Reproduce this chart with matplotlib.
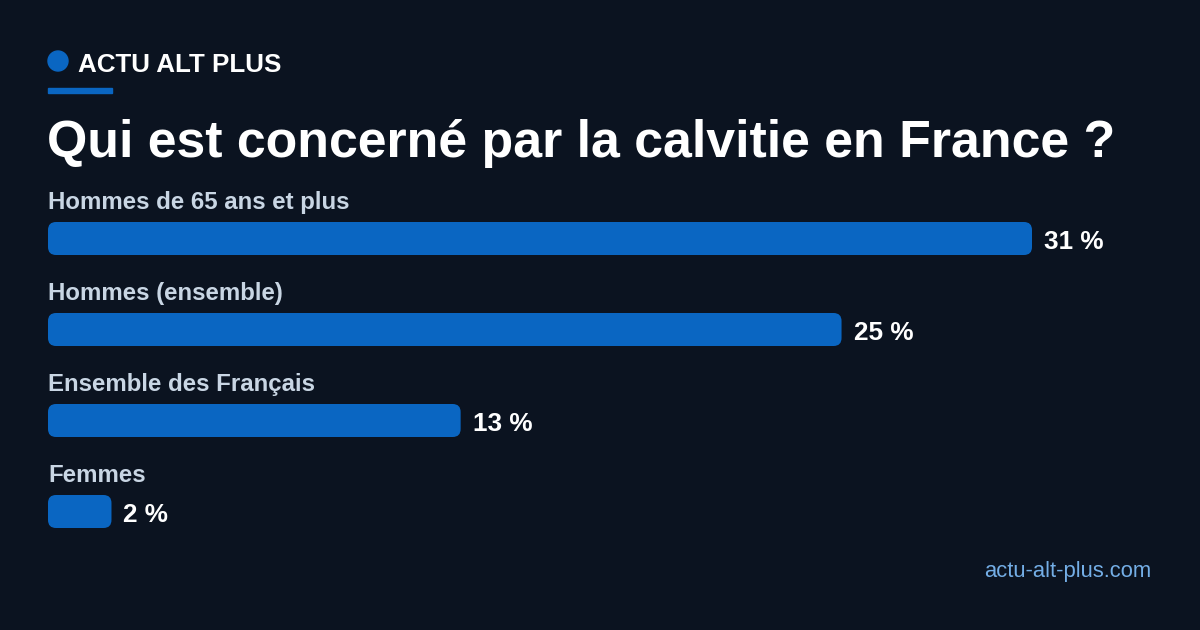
import matplotlib
matplotlib.use("Agg")
import matplotlib.pyplot as plt
from matplotlib.patches import FancyBboxPatch, Circle, Rectangle

categories = ["Hommes de 65 ans et plus", "Hommes (ensemble)", "Ensemble des Français", "Femmes"]
values = [31, 25, 13, 2]
value_labels = ["31 %", "25 %", "13 %", "2 %"]
brand = "ACTU ALT PLUS"
title = "Qui est concerné par la calvitie en France ?"
source = "actu-alt-plus.com"

BG = "#0b1320"
BAR = "#0a66c2"
LABEL = "#c9d6e4"
URL = "#74aee6"
FONT = ["Liberation Sans", "DejaVu Sans"]
plt.rcParams["font.family"] = FONT

W, H, DPI = 1200, 630, 100
fig = plt.figure(figsize=(W / DPI, H / DPI), dpi=DPI, facecolor=BG)

# overlay axes in pixel coordinates (y from top)
ov = fig.add_axes([0, 0, 1, 1])
ov.set_xlim(0, W)
ov.set_ylim(H, 0)
ov.axis("off")
ov.set_facecolor(BG)

ov.add_patch(Circle((58, 61), 10, color=BAR))
ov.text(78, 72, brand, color="white", fontsize=18.7, fontweight="bold", va="baseline")
ov.add_patch(Rectangle((48, 88), 64, 5, color=BAR))
ov.text(47, 157, title, color="white", fontsize=37.4, fontweight="bold", va="baseline")
ov.text(1151, 577, source, color=URL, fontsize=15.8, ha="right", va="baseline")

# bar axes
x_px0, x_px1 = 48, 1032
top, bottom = 222, 528
ax = fig.add_axes([x_px0 / W, 1 - bottom / H, (x_px1 - x_px0) / W, (bottom - top) / H])
ax.set_facecolor("none")
ax.axis("off")
step_px = 91
bar_px = 33
bh = bar_px / step_px
ax.set_xlim(0, max(values))
ax.set_ylim(len(values) - 1 + bh / 2, -bh / 2)

xunit_px = (x_px1 - x_px0) / max(values)
r_px = 8
aspect = xunit_px / step_px
for i, (c, v, lab) in enumerate(zip(categories, values, value_labels)):
    p = FancyBboxPatch((0, i - bh / 2), v, bh,
                       boxstyle=f"round,pad=0,rounding_size={r_px / xunit_px}",
                       mutation_aspect=aspect, facecolor=BAR, edgecolor="none")
    ax.add_patch(p)
    ax.annotate(c, xy=(0, i - bh / 2), xytext=(0, 13 * 0.72), textcoords="offset points",
                color=LABEL, fontsize=17.3, fontweight="bold", va="baseline", ha="left",
                annotation_clip=False)
    ax.annotate(lab, xy=(v, i), xytext=(12 * 0.72, -3 * 0.72), textcoords="offset points",
                color="white", fontsize=18.8, fontweight="bold", va="center", ha="left",
                annotation_clip=False)

fig.savefig("out.png", dpi=DPI, facecolor=BG)
